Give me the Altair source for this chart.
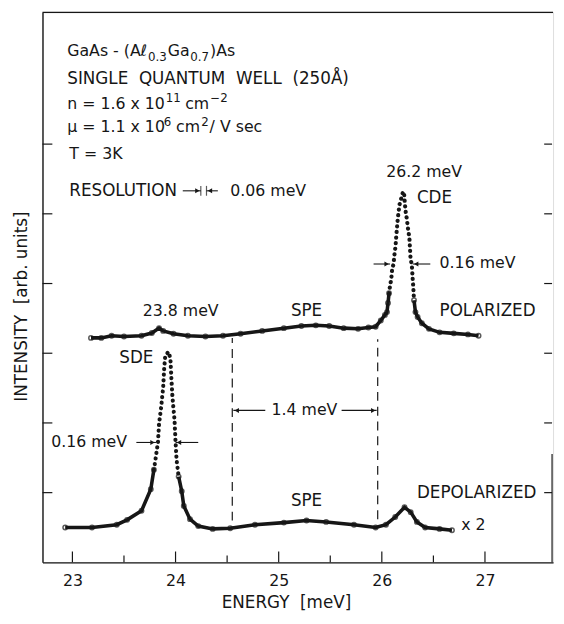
import altair as alt
import pandas as pd

# ---------------- data ----------------
pol_x = [23.18, 23.28, 23.38, 23.50, 23.67, 23.77, 23.84, 23.88, 23.98, 24.12, 24.29, 24.46,
         24.63, 24.84, 25.05, 25.22, 25.36, 25.49, 25.63, 25.77, 25.87, 25.94, 25.99, 26.03,
         26.05, 26.06, 26.07, 26.078, 26.092, 26.099, 26.113, 26.123, 26.133, 26.140, 26.147,
         26.154, 26.161, 26.171, 26.188, 26.206, 26.216, 26.223, 26.233, 26.243, 26.257, 26.267,
         26.278, 26.291, 26.298, 26.305, 26.312, 26.326, 26.347, 26.388, 26.457, 26.56, 26.697,
         26.835, 26.938]
pol_y = [3.22, 3.22, 3.25, 3.24, 3.25, 3.29, 3.36, 3.32, 3.28, 3.25, 3.24, 3.25,
         3.28, 3.32, 3.36, 3.39, 3.40, 3.39, 3.36, 3.35, 3.37, 3.38, 3.47, 3.55,
         3.59, 3.72, 3.86, 3.95, 4.07, 4.19, 4.28, 4.42, 4.54, 4.68, 4.80,
         4.92, 5.01, 5.13, 5.22, 5.32, 5.29, 5.15, 5.01, 4.92, 4.75, 4.66,
         4.37, 4.26, 4.09, 3.95, 3.76, 3.59, 3.52, 3.43, 3.35, 3.30, 3.285,
         3.27, 3.25]

dep_x = [22.93, 23.19, 23.43, 23.53, 23.67, 23.76, 23.79, 23.81, 23.83, 23.84, 23.86, 23.88,
         23.89, 23.90, 23.93, 23.95, 23.96, 23.97, 23.99, 24.00, 24.01, 24.03, 24.06, 24.08,
         24.14, 24.22, 24.36, 24.53, 24.77, 25.05, 25.27, 25.46, 25.73, 25.94, 26.04, 26.13,
         26.22, 26.28, 26.34, 26.42, 26.56, 26.68]
dep_y = [0.50, 0.50, 0.54, 0.61, 0.74, 1.05, 1.33, 1.52, 1.73, 1.99, 2.22, 2.51,
         2.79, 2.96, 3.02, 2.93, 2.63, 2.37, 2.04, 1.73, 1.47, 1.23, 1.02, 0.81,
         0.62, 0.52, 0.48, 0.49, 0.54, 0.57, 0.60, 0.58, 0.54, 0.50, 0.54, 0.65,
         0.79, 0.72, 0.58, 0.50, 0.48, 0.46]

# above these levels the peaks appear as separate dots, not a dense trace
pol_dot_level = 3.9
dep_dot_level = 1.4

x_major = [23, 24, 25, 26, 27]
x_minor = [23.5, 24.5, 25.5, 26.5]
y_ticks = [1, 2, 3, 4, 5, 6]

NB = "\u00a0"
# annotation texts, left aligned, normal size
lt_text = ["GaAs - (Aℓ", "Ga", ")As", "n = 1.6  x 10", "cm", "μ = 1.1  x 10", "cm", "/ V sec",
           "T = 3K", "0.06 meV", "0.16 meV", "x 2"]
lt_x = [22.95, 23.924, 24.334, 22.95, 24.093, 22.95, 24.005, 24.33,
        22.97, 24.53, 26.56, 26.77]
lt_y = [7.33, 7.33, 7.33, 6.58, 6.58, 6.24, 6.24, 6.24,
        5.86, 5.33, 4.29, 0.54]

# left aligned capitals (slightly larger lettering)
cap_text = ["SINGLE " + NB + "QUANTUM " + NB + "WELL " + NB + "(250Å)", "RESOLUTION",
            "CDE", "POLARIZED", "DEPOLARIZED"]
cap_x = [22.95, 22.97, 26.34, 26.56, 26.34]
cap_y = [6.94, 5.33, 5.23, 3.61, 0.99]

# subscripts and superscripts
sub_text = ["0.3", "0.7", "11", "−2", "6", "2"]
sub_x = [23.732, 24.143, 23.905, 24.337, 23.885, 24.25]
sub_y = [7.25, 7.25, 6.66, 6.66, 6.32, 6.32]

ct_text = ["26.2 meV", "23.8 meV", "1.4 meV"]
ct_x = [26.41, 24.05, 25.25]
ct_y = [5.60, 3.61, 2.18]

cc_text = ["SPE", "SDE", "SPE"]
cc_x = [25.27, 23.62, 25.27]
cc_y = [3.61, 2.93, 0.88]

rt_text = ["0.16 meV"]
rt_x = [23.53]
rt_y = [1.72]

# dashed guide lines
dash_x = [24.55, 25.96]
dash_y0 = [0.60, 0.62]
dash_y1 = [3.22, 3.20]

# arrows: shaft from x0 to x1 (x1 = tip)
arr_x0 = [23.62, 24.22, 25.92, 26.47, 24.87, 25.61, 24.07, 24.41]
arr_x1 = [23.81, 24.00, 26.08, 26.30, 24.56, 25.95, 24.245, 24.30]
arr_y = [1.72, 1.72, 4.28, 4.28, 2.18, 2.18, 5.33, 5.33]
arr_dir = ["r", "l", "r", "l", "l", "r", "r", "l"]
res_bar_x = [24.245, 24.30]
res_bar_y = [5.33, 5.33]

# ---------------- chart ----------------
W, H = 518, 558
XD = [22.71, 27.66]
YD = [0, 7.89]
FONT = "DejaVu Sans"
FS = 16
FC = 17
INK = "#161616"
PX = (XD[1] - XD[0]) / W  # data units per pixel

xs = alt.Scale(domain=XD, nice=False, zero=False)
ys = alt.Scale(domain=YD, nice=False, zero=False)
x_axis = alt.Axis(values=x_major, ticks=False, grid=False, domain=True, domainColor=INK,
                  domainWidth=1.4, labelFont=FONT, labelFontSize=FS, labelColor=INK,
                  labelPadding=10, format="d", title="ENERGY " + NB + "[meV]", titleFont=FONT,
                  titleFontSize=FC, titleFontWeight="normal", titleColor=INK,
                  titleX=247, titleY=41, titleBaseline="middle", titleAnchor="middle")
y_axis = alt.Axis(values=y_ticks, ticks=False, labels=False, grid=False, domain=True,
                  domainColor=INK, domainWidth=1.4, title="INTENSITY " + NB + "[arb. units]",
                  titleFont=FONT, titleFontSize=FC, titleFontWeight="normal", titleColor=INK,
                  titleAngle=270, titleX=-21, titleY=298, titleBaseline="middle",
                  titleAlign="center")


def X(f):
    return alt.X(f, type="quantitative", scale=xs, axis=x_axis)


def Y(f):
    return alt.Y(f, type="quantitative", scale=ys, axis=y_axis)


def split(xv, yv, level):
    """Dense-trace parts (left/right of the peak) and the dotted peak part."""
    df = pd.DataFrame({"x": xv, "y": yv})
    high = df.index[df["y"] > level]
    i0, i1 = high.min(), high.max()
    left = df.loc[:i0 - 1].assign(seg="L")
    right = df.loc[i1 + 1:].assign(seg="R")
    peak = df.loc[i0 - 1:i1 + 1]
    return pd.concat([left, right]), peak


layers = []
for xv, yv, lev in ((pol_x, pol_y, pol_dot_level), (dep_x, dep_y, dep_dot_level)):
    trace, peak = split(xv, yv, lev)
    layers.append(alt.Chart(trace).mark_line(color=INK, strokeWidth=3.6).encode(
        x=X("x"), y=Y("y"), detail="seg:N"))
    layers.append(alt.Chart(trace).mark_point(color=INK, size=20, strokeWidth=1.5, filled=False)
                  .encode(x=X("x"), y=Y("y")))
    layers.append(alt.Chart(peak).mark_line(color=INK, strokeWidth=4.2, strokeCap="round",
                                            strokeDash=[0.1, 5.6]).encode(x=X("x"), y=Y("y")))

# frame: top line and lower part of right spine
one = pd.DataFrame({"a": [0]})
layers.append(alt.Chart(one).mark_rule(color=INK, strokeWidth=1.2).encode(
    x=alt.value(0), x2=alt.value(W), y=alt.value(0)))
layers.append(alt.Chart(one).mark_rule(color=INK, strokeWidth=1.2).encode(
    x=alt.value(W - 1), y=alt.value(H), y2=alt.value(H - 110)))

# ticks (inward)
layers.append(alt.Chart(pd.DataFrame({"t": x_major})).mark_rule(color=INK, strokeWidth=1.2).encode(
    x=X("t"), y=alt.value(H), y2=alt.value(H - 11)))
layers.append(alt.Chart(pd.DataFrame({"t": x_minor})).mark_rule(color=INK, strokeWidth=1.2).encode(
    x=X("t"), y=alt.value(H), y2=alt.value(H - 7)))
layers.append(alt.Chart(pd.DataFrame({"t": y_ticks})).mark_rule(color=INK, strokeWidth=1.2).encode(
    y=Y("t"), x=alt.value(0), x2=alt.value(10)))
layers.append(alt.Chart(pd.DataFrame({"t": y_ticks})).mark_rule(color=INK, strokeWidth=1.2).encode(
    y=Y("t"), x=alt.value(W - 1), x2=alt.value(W - 9)))

# dashed lines
dd = pd.DataFrame({"x": dash_x, "y0": dash_y0, "y1": dash_y1})
layers.append(alt.Chart(dd).mark_rule(color=INK, strokeWidth=1.2, strokeDash=[9, 6]).encode(
    x=X("x"), y=Y("y0"), y2="y1"))

# arrows
ad = pd.DataFrame({"x0": arr_x0, "x1": arr_x1, "y": arr_y, "d": arr_dir})
ad["hx"] = [x1 - 3.5 * PX if d == "r" else x1 + 3.5 * PX for x1, d in zip(arr_x1, arr_dir)]
layers.append(alt.Chart(ad).mark_rule(color=INK, strokeWidth=1.1).encode(
    x=X("x0"), x2="x1", y=Y("y")))
layers.append(alt.Chart(ad).mark_point(filled=True, color=INK, size=26, opacity=1).encode(
    x=X("hx"), y=Y("y"),
    shape=alt.Shape("d:N", scale=alt.Scale(domain=["r", "l"], range=["triangle-right", "triangle-left"]),
                    legend=None)))
rb = pd.DataFrame({"x": res_bar_x, "y": res_bar_y})
layers.append(alt.Chart(rb).mark_tick(color=INK, thickness=1.2, size=10, orient="vertical").encode(
    x=X("x"), y=Y("y")))


def texts(xv, yv, tv, align, size):
    df = pd.DataFrame({"x": xv, "y": yv, "t": tv})
    return alt.Chart(df).mark_text(align=align, baseline="middle", font=FONT, fontSize=size,
                                   color=INK).encode(x=X("x"), y=Y("y"), text="t")


layers.append(texts(lt_x, lt_y, lt_text, "left", FS))
layers.append(texts(cap_x, cap_y, cap_text, "left", FC))
layers.append(texts(sub_x, sub_y, sub_text, "left", 12))
layers.append(texts(ct_x, ct_y, ct_text, "center", FS))
layers.append(texts(cc_x, cc_y, cc_text, "center", FC))
layers.append(texts(rt_x, rt_y, rt_text, "right", FS))

chart = alt.layer(*layers).properties(
    width=W, height=H,
    autosize=alt.AutoSizeParams(type="none"),
    padding={"left": 35, "top": 0, "right": 3, "bottom": 50},
).configure_view(stroke=None).configure(background="white")

chart.save("out.html", embed_options={"renderer": "svg", "actions": False})
